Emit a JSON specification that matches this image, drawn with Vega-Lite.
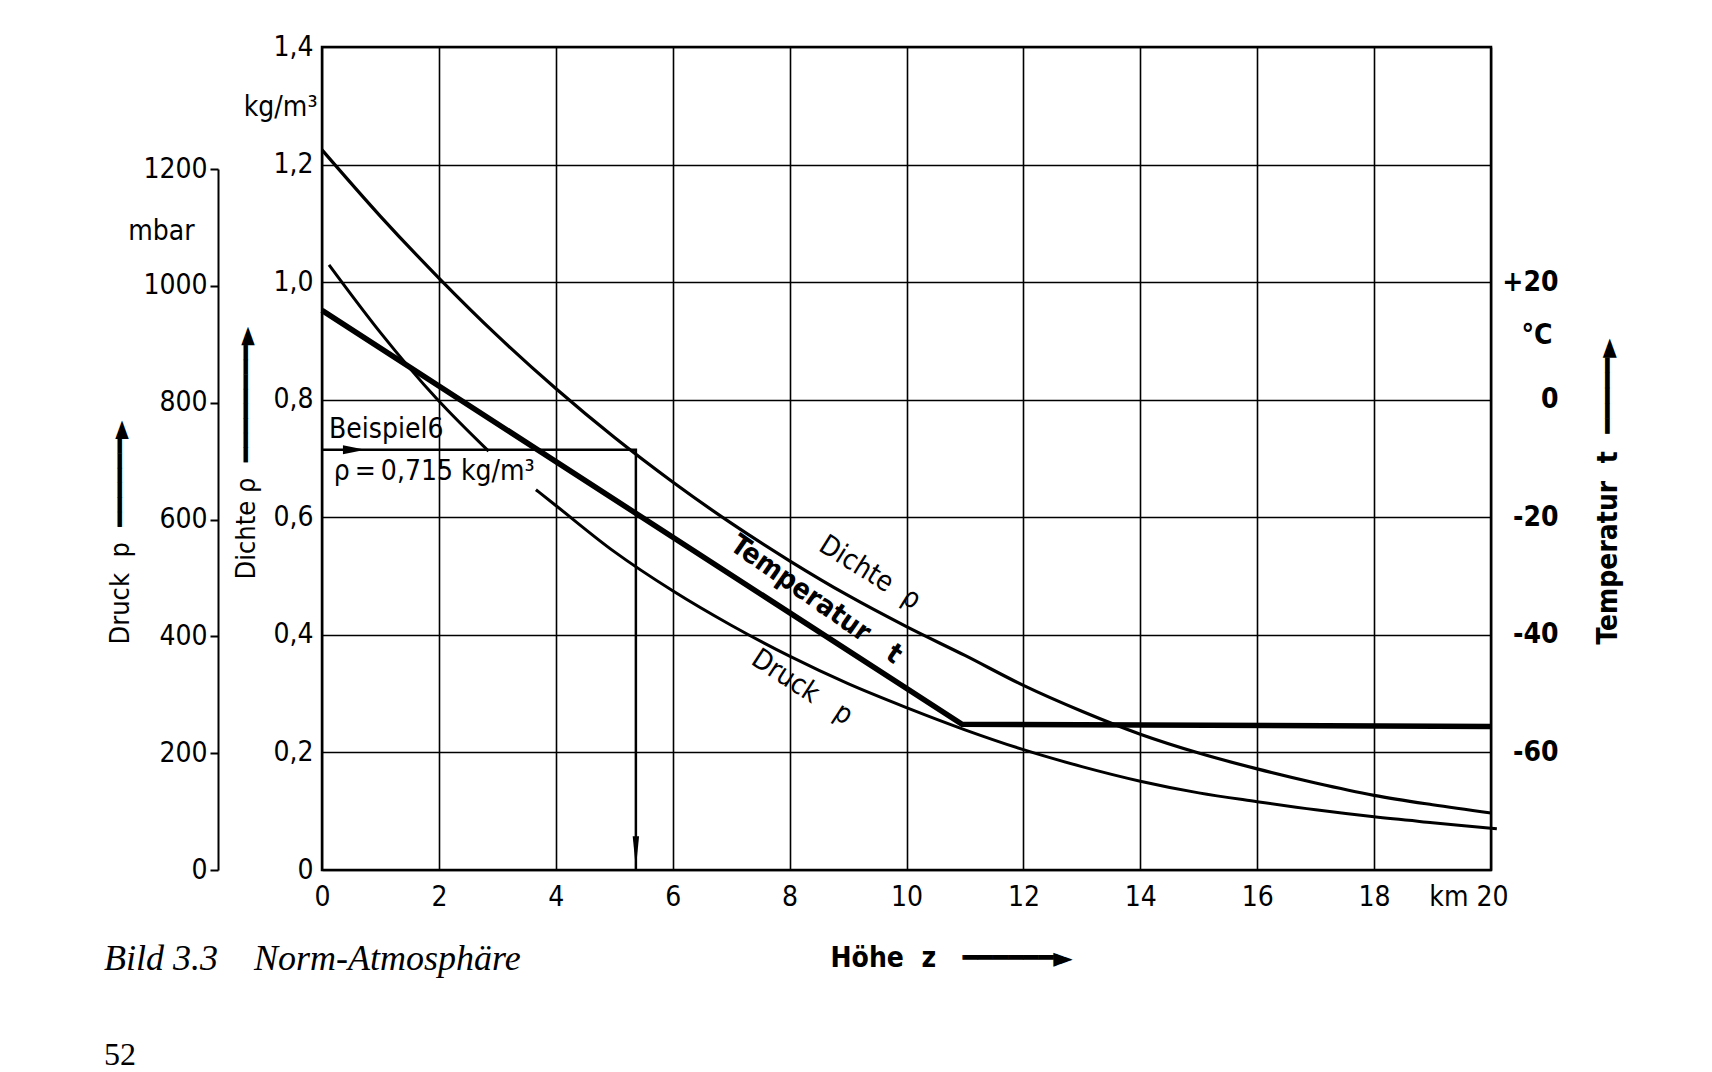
{
  "$schema": "https://vega.github.io/schema/vega-lite/v6.json",
  "width": 1169,
  "height": 823,
  "autosize": {"type": "none"},
  "padding": {"left": 322, "top": 47, "right": 221, "bottom": 202},
  "background": "white",
  "config": {
    "font": "DejaVu Sans Condensed",
    "view": {"stroke": "black", "strokeWidth": 2.5},
    "axis": {
      "domainColor": "black", "tickColor": "black", "labelColor": "black", "titleColor": "black",
      "gridColor": "black", "labelFont": "DejaVu Sans Condensed", "titleFont": "DejaVu Sans Condensed",
      "labelFlush": false, "labelOverlap": false
    }
  },
  "title": {
    "text": "Bild 3.3\u00a0\u00a0\u00a0\u00a0Norm-Atmosphäre",
    "subtitle": "52",
    "orient": "bottom",
    "anchor": "start",
    "frame": "group",
    "dx": -218,
    "offset": -30,
    "font": "Liberation Serif",
    "fontStyle": "italic",
    "fontWeight": "normal",
    "fontSize": 36,
    "color": "black",
    "subtitleFont": "Liberation Serif",
    "subtitleFontSize": 32,
    "subtitleFontStyle": "normal",
    "subtitleColor": "black",
    "subtitlePadding": 62
  },
  "datasets": {
    "density": [
      {"z": 0, "rho": 1.225}, {"z": 1, "rho": 1.112}, {"z": 2, "rho": 1.007}, {"z": 3, "rho": 0.909},
      {"z": 4, "rho": 0.819}, {"z": 5, "rho": 0.736}, {"z": 6, "rho": 0.660}, {"z": 7, "rho": 0.590},
      {"z": 8, "rho": 0.526}, {"z": 9, "rho": 0.467}, {"z": 10, "rho": 0.414}, {"z": 11, "rho": 0.365},
      {"z": 12, "rho": 0.314}, {"z": 13, "rho": 0.270}, {"z": 14, "rho": 0.231}, {"z": 15, "rho": 0.199},
      {"z": 16, "rho": 0.172}, {"z": 17, "rho": 0.148}, {"z": 18, "rho": 0.127}, {"z": 19, "rho": 0.111},
      {"z": 20, "rho": 0.097}
    ],
    "pressure": [
      {"seg": "a", "z": 0.12, "p": 1036}, {"seg": "a", "z": 1, "p": 920}, {"seg": "a", "z": 1.96, "p": 807},
      {"seg": "a", "z": 2.85, "p": 717},
      {"seg": "b", "z": 3.66, "p": 651}, {"seg": "b", "z": 4, "p": 624}, {"seg": "b", "z": 5, "p": 545},
      {"seg": "b", "z": 6, "p": 478}, {"seg": "b", "z": 7, "p": 419}, {"seg": "b", "z": 8, "p": 366},
      {"seg": "b", "z": 9, "p": 319}, {"seg": "b", "z": 10, "p": 278}, {"seg": "b", "z": 11, "p": 240},
      {"seg": "b", "z": 12, "p": 206}, {"seg": "b", "z": 13, "p": 177}, {"seg": "b", "z": 14, "p": 152},
      {"seg": "b", "z": 15, "p": 132}, {"seg": "b", "z": 16, "p": 117}, {"seg": "b", "z": 17, "p": 103},
      {"seg": "b", "z": 18, "p": 91}, {"seg": "b", "z": 19, "p": 81}, {"seg": "b", "z": 20, "p": 71.5},
      {"seg": "b", "z": 20.1, "p": 70.5}
    ],
    "temperature": [
      {"z": 0, "t": 15.2}, {"z": 10.95, "t": -55.2}, {"z": 20, "t": -55.6}
    ],
    "example": [
      {"o": 1, "z": 0, "rho": 0.715}, {"o": 2, "z": 5.37, "rho": 0.715}, {"o": 3, "z": 5.37, "rho": 0}
    ],
    "arrows": [
      {"dir": "right", "z": 0.55, "rho": 0.715}, {"dir": "down", "z": 5.37, "rho": 0.03}
    ],
    "notes": [
      {"label": "Beispiel6", "z": 0.12, "rho": 0.748},
      {"label": "ρ\u2009=\u20090,715 kg/m³", "z": 0.2, "rho": 0.677}
    ],
    "densityLabel": [{"label": "Dichte\u00a0\u00a0ρ", "z": 9.37, "rho": 0.505}],
    "pressureLabel": [{"label": "Druck\u00a0\u00a0\u00a0p", "z": 8.21, "p": 312}],
    "temperatureLabel": [{"label": "Temperatur\u00a0\u00a0\u00a0t", "z": 8.45, "t": -34.1}]
  },
  "layer": [
    {
      "layer": [
        {
          "data": {"name": "density"},
          "mark": {"type": "line", "color": "black", "strokeWidth": 3.2, "interpolate": "monotone"},
          "encoding": {
            "x": {
              "field": "z", "type": "quantitative",
              "scale": {"domain": [0, 20], "nice": false},
              "axis": {
                "values": [0, 2, 4, 6, 8, 10, 12, 14, 16, 18, 20],
                "grid": true, "gridWidth": 1.6, "ticks": false, "domain": false,
                "labelFontSize": 28, "labelPadding": 13,
                "labelExpr": "datum.value == 20 ? 'km 20' : '' + datum.value",
                "labelAlign": {"condition": {"test": "datum.value == 20", "value": "right"}, "value": "center"},
                "labelOffset": {"condition": {"test": "datum.value == 20", "value": 17}, "value": 0},
                "title": "Höhe\u00a0\u00a0z\u00a0\u00a0\u00a0━━━━━━►",
                "titleFontSize": 28, "titleFontWeight": "bold",
                "titleX": 508, "titleY": 88, "titleAlign": "left", "titleBaseline": "middle"
              }
            },
            "y": {
              "field": "rho", "type": "quantitative",
              "scale": {"domain": [0, 1.4], "nice": false, "zero": false},
              "axis": {
                "values": [0, 0.2, 0.4, 0.6, 0.8, 1.0, 1.2, 1.4, 1.297],
                "labelExpr": "datum.value == 1.297 ? 'kg/m³' : (datum.value == 0 ? '0' : replace(format(datum.value, '.1f'), '.', ','))",
                "grid": true, "gridWidth": 1.6,
                "gridOpacity": {"condition": {"test": "datum.value == 1.297", "value": 0}, "value": 1},
                "ticks": false, "domain": false,
                "labelFontSize": 28,
                "labelPadding": {"condition": {"test": "datum.value == 1.297", "value": 5}, "value": 9},
                "title": "Dichte\u00a0ρ\u00a0\u00a0━━━━━━━━►",
                "titleFontSize": 27, "titleFontWeight": "normal", "titleAngle": 270,
                "titleX": -76, "titleY": 532, "titleAlign": "left", "titleBaseline": "middle"
              }
            }
          }
        },
        {
          "data": {"name": "example"},
          "mark": {"type": "line", "color": "black", "strokeWidth": 2.5},
          "encoding": {
            "x": {"field": "z", "type": "quantitative"},
            "y": {"field": "rho", "type": "quantitative"},
            "order": {"field": "o", "type": "quantitative"}
          }
        },
        {
          "data": {"name": "arrows"},
          "mark": {"type": "point", "filled": true, "color": "black", "opacity": 1, "size": 1024, "strokeWidth": 0},
          "encoding": {
            "x": {"field": "z", "type": "quantitative"},
            "y": {"field": "rho", "type": "quantitative"},
            "shape": {
              "field": "dir", "type": "nominal", "legend": null,
              "scale": {"domain": ["right", "down"], "range": ["M-0.7,-0.28L0.7,0L-0.7,0.28Z", "M-0.2,-1L0,1L0.2,-1Z"]}
            }
          }
        },
        {
          "data": {"name": "notes"},
          "mark": {"type": "text", "align": "left", "baseline": "middle", "fontSize": 28, "color": "black"},
          "encoding": {
            "x": {"field": "z", "type": "quantitative"},
            "y": {"field": "rho", "type": "quantitative"},
            "text": {"field": "label"}
          }
        },
        {
          "data": {"name": "densityLabel"},
          "mark": {"type": "text", "align": "center", "baseline": "middle", "fontSize": 28, "angle": 32, "color": "black"},
          "encoding": {
            "x": {"field": "z", "type": "quantitative"},
            "y": {"field": "rho", "type": "quantitative"},
            "text": {"field": "label"}
          }
        }
      ]
    },
    {
      "layer": [
        {
          "data": {"name": "pressure"},
          "mark": {"type": "line", "color": "black", "strokeWidth": 3, "interpolate": "monotone"},
          "encoding": {
            "x": {"field": "z", "type": "quantitative"},
            "y": {
              "field": "p", "type": "quantitative",
              "scale": {"domain": [0, 1200], "range": [823, 122], "nice": false, "zero": false},
              "axis": {
                "orient": "left", "offset": 104,
                "values": [0, 200, 400, 600, 800, 1000, 1093, 1200],
                "labelExpr": "datum.value == 1093 ? 'mbar' : format(datum.value, 'd')",
                "tickOpacity": {"condition": {"test": "datum.value == 1093", "value": 0}, "value": 1},
                "tickSize": 8, "tickWidth": 2, "domainWidth": 2, "grid": false,
                "labelFontSize": 28,
                "labelPadding": {"condition": {"test": "datum.value == 1093", "value": 16}, "value": 3},
                "title": "Druck\u00a0\u00a0p\u00a0\u00a0━━━━━━►",
                "titleFontSize": 27, "titleFontWeight": "normal", "titleAngle": 270,
                "titleX": -98, "titleY": 597, "titleAlign": "left", "titleBaseline": "middle"
              }
            },
            "detail": {"field": "seg", "type": "nominal"}
          }
        },
        {
          "data": {"name": "pressureLabel"},
          "mark": {"type": "text", "align": "center", "baseline": "middle", "fontSize": 28, "angle": 33, "color": "black"},
          "encoding": {
            "x": {"field": "z", "type": "quantitative"},
            "y": {"field": "p", "type": "quantitative"},
            "text": {"field": "label"}
          }
        }
      ]
    },
    {
      "layer": [
        {
          "data": {"name": "temperature"},
          "mark": {"type": "line", "color": "black", "strokeWidth": 5.5},
          "encoding": {
            "x": {"field": "z", "type": "quantitative"},
            "y": {
              "field": "t", "type": "quantitative",
              "scale": {"domain": [-80, 60], "nice": false, "zero": false},
              "axis": {
                "orient": "right",
                "values": [-60, -40, -20, 0, 11, 20],
                "labelExpr": "datum.value == 11 ? '°C' : (datum.value > 0 ? '+' + datum.value : '' + datum.value)",
                "ticks": false, "domain": false, "grid": false,
                "labelFontSize": 28, "labelFontWeight": "bold", "labelAlign": "right",
                "labelPadding": {"condition": {"test": "datum.value == 11", "value": 61}, "value": 67},
                "title": "Temperatur\u00a0\u00a0t\u00a0\u00a0━━━━━►",
                "titleFontSize": 28, "titleFontWeight": "bold", "titleAngle": 270,
                "titleX": 117, "titleY": 597, "titleAlign": "left", "titleBaseline": "middle"
              }
            }
          }
        },
        {
          "data": {"name": "temperatureLabel"},
          "mark": {"type": "text", "align": "center", "baseline": "middle", "fontSize": 28, "fontWeight": "bold", "angle": 35, "color": "black"},
          "encoding": {
            "x": {"field": "z", "type": "quantitative"},
            "y": {"field": "t", "type": "quantitative"},
            "text": {"field": "label"}
          }
        }
      ]
    }
  ],
  "resolve": {"scale": {"y": "independent"}}
}
